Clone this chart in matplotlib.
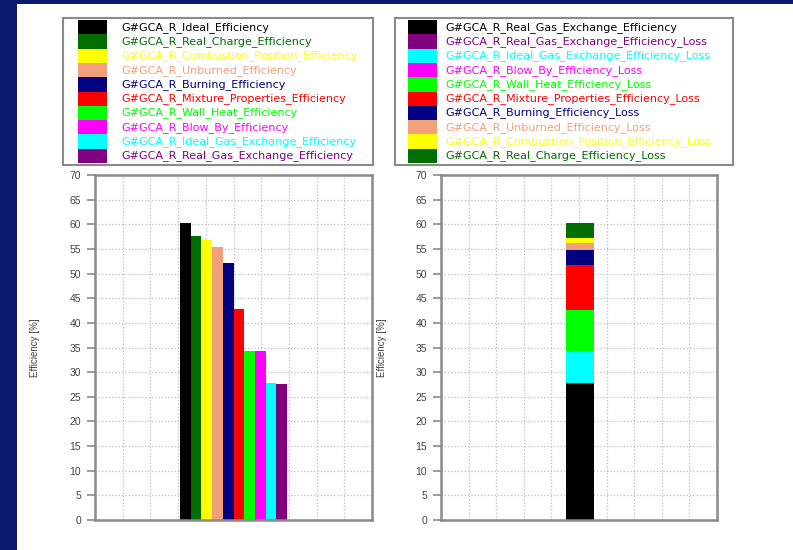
import numpy as np
import matplotlib
matplotlib.use("Agg")
import matplotlib.pyplot as plt
from matplotlib.patches import Rectangle

plt.rcParams['font.family'] = ['Liberation Sans', 'DejaVu Sans']

# 效率链 (左图, 单位 %)
eff_names = ['Ideal', 'Real_Charge', 'Combustion_Position', 'Unburned', 'Burning',
             'Mixture_Properties', 'Wall_Heat', 'Blow_By', 'Ideal_Gas_Exchange',
             'Real_Gas_Exchange']
eff_values = [60.3, 57.6, 56.9, 55.3, 52.1, 42.8, 34.3, 34.3, 27.7, 27.6]
eff_colors = ['#000000', '#006e00', '#ffff00', '#f2a07a', '#000080',
              '#ff0000', '#00ff00', '#ff00ff', '#00ffff', '#800080']

# 损失堆叠 (右图, 自下而上)
loss_names = ['Real_Gas_Exchange_Efficiency', 'Real_Gas_Exchange_Efficiency_Loss',
              'Ideal_Gas_Exchange_Efficiency_Loss', 'Blow_By_Efficiency_Loss',
              'Wall_Heat_Efficiency_Loss', 'Mixture_Properties_Efficiency_Loss',
              'Burning_Efficiency_Loss', 'Unburned_Efficiency_Loss',
              'Combustion_Position_Efficiency_Loss', 'Real_Charge_Efficiency_Loss']
loss_values = [27.6, 0.1, 6.6, 0.0, 8.3, 9.1, 3.1, 1.4, 1.1, 3.0]
loss_colors = ['#000000', '#800080', '#00ffff', '#ff00ff', '#00ff00',
               '#ff0000', '#000080', '#f2a07a', '#ffff00', '#006e00']

prefix = 'G#GCA_R_'
W, H = 793, 550
navy = '#0b1870'
frame = '#8a8a8a'

fig = plt.figure(figsize=(W / 100, H / 100), dpi=100, facecolor='white')

# 背景边条
fig.patches.append(Rectangle((0, 0), 17 / W, 1, transform=fig.transFigure,
                             facecolor=navy, edgecolor='none', zorder=-5))
fig.patches.append(Rectangle((0, 1 - 4 / H), 1, 4 / H, transform=fig.transFigure,
                             facecolor=navy, edgecolor='none', zorder=-5))


def px_axes(x0, y0, x1, y1):
    """按像素坐标创建坐标轴"""
    return fig.add_axes([x0 / W, 1 - y1 / H, (x1 - x0) / W, (y1 - y0) / H])


def draw_legend(box, labels, colors, sw_x, text_x):
    x0, y0, x1, y1 = box
    ax = px_axes(*box)
    bw, bh = x1 - x0, y1 - y0
    ax.set_xlim(0, bw)
    ax.set_ylim(bh, 0)
    ax.set_xticks([])
    ax.set_yticks([])
    for s in ax.spines.values():
        s.set_color(frame)
        s.set_linewidth(1.5)
    row_h = (bh - 4) / len(labels)
    ys = 2 + row_h * (np.arange(len(labels)) + 0.5)
    ax.barh(ys, 29, height=row_h, left=sw_x, color=colors, edgecolor='none')
    for y, lab, c in zip(ys, labels, colors):
        ax.text(text_x, y, lab, color=c, fontsize=8.0, va='center', ha='left',
                family='DejaVu Sans')


def style_axes(ax, ylabel_x):
    ax.set_xlim(0, 10)
    ax.set_ylim(0, 70)
    ax.set_yticks(np.arange(0, 71, 5))
    ax.set_xticks(np.arange(0, 11, 1))
    ax.tick_params(axis='x', length=0, labelbottom=False)
    ax.tick_params(axis='y', length=6, width=1.2, color=frame, pad=4,
                   labelsize=7.5, labelcolor='#444444')
    ax.grid(True, linestyle=':', color='#bdbdbd', linewidth=0.9)
    ax.set_axisbelow(True)
    for s in ax.spines.values():
        s.set_color(frame)
        s.set_linewidth(1.8)
    ax.set_ylabel('Efficiency [%]', fontsize=7, color='#444444')
    ax.yaxis.set_label_coords(ylabel_x, 0.5)


# 图例
draw_legend((63, 18, 373, 165), [prefix + n + '_Efficiency' for n in eff_names],
            eff_colors, 15, 58)
draw_legend((395, 18, 733, 165), [prefix + n for n in loss_names],
            loss_colors, 13, 50)

# 左图: 各级效率
ax1 = px_axes(95, 175, 372, 520)
bar_w = 0.386
pos = 3.07 + bar_w * (np.arange(len(eff_values)) + 0.5)
ax1.bar(pos, eff_values, width=bar_w, color=eff_colors, edgecolor='none')
style_axes(ax1, -0.2)

# 右图: 损失堆叠
ax2 = px_axes(441, 175, 717, 520)
bottom = np.concatenate([[0], np.cumsum(loss_values)[:-1]])
ax2.bar(np.full(len(loss_values), 5.03), loss_values, width=1.02, bottom=bottom,
        color=loss_colors, edgecolor='none')
style_axes(ax2, -0.196)

fig.savefig('out.png', dpi=100, facecolor=fig.get_facecolor())
